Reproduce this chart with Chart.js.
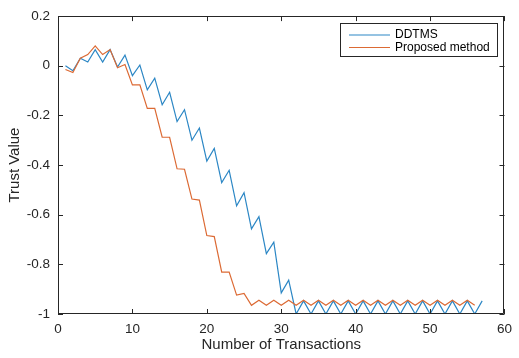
<!DOCTYPE html>
<html lang="en">

<head>
    <meta charset="UTF-8">
    <title>Trust Value vs Number of Transactions</title>
    <style>
        body {
            margin: 0;
            padding: 0;
            background: #fff;
        }

        .chart-box {
            width: 519px;
            height: 358px;
        }
    </style>
</head>

<body>
    <div class="chart-box">
        <canvas id="trustChart" width="519" height="358"></canvas>
    </div>

    <script src="https://cdn.jsdelivr.net/npm/chart.js"></script>
    <script>
        // Values
        const transactions = [1, 2, 3, 4, 5, 6, 7, 8, 9, 10, 11, 12, 13, 14, 15, 16, 17, 18, 19, 20,
            21, 22, 23, 24, 25, 26, 27, 28, 29, 30, 31, 32, 33, 34, 35, 36, 37, 38, 39, 40,
            41, 42, 43, 44, 45, 46, 47, 48, 49, 50, 51, 52, 53, 54, 55, 56, 57];

        const ddtms = [0.0, -0.02, 0.03, 0.015, 0.065, 0.015, 0.065, -0.005, 0.043, -0.04,
            0.003, -0.097, -0.05, -0.157, -0.107, -0.225, -0.177, -0.3, -0.251, -0.384,
            -0.333, -0.471, -0.421, -0.564, -0.511, -0.657, -0.608, -0.757, -0.711, -0.915,
            -0.864, -1, -0.947, -1, -0.947, -1, -0.947, -1, -0.947, -1,
            -0.947, -1, -0.947, -1, -0.947, -1, -0.947, -1, -0.947, -1,
            -0.947, -1, -0.947, -1, -0.947, -1, -0.947];

        const proposed = [-0.015, -0.027, 0.03, 0.045, 0.08, 0.045, 0.065, -0.008, 0.005, -0.077,
            -0.077, -0.172, -0.172, -0.288, -0.288, -0.415, -0.417, -0.537, -0.541, -0.684,
            -0.688, -0.831, -0.831, -0.924, -0.917, -0.965, -0.945, -0.965, -0.945, -0.965,
            -0.945, -0.965, -0.945, -0.965, -0.945, -0.965, -0.945, -0.965, -0.945, -0.965,
            -0.945, -0.965, -0.945, -0.965, -0.945, -0.965, -0.945, -0.965, -0.945, -0.965,
            -0.945, -0.965, -0.945, -0.965, -0.945, -0.965];

        const xTicks = [0, 10, 20, 30, 40, 50, 60];
        const yTicks = [0.2, 0, -0.2, -0.4, -0.6, -0.8, -1];

        const seriesNames = ['DDTMS', 'Proposed method'];
        const seriesColors = ['#2c87c5', '#dc6a34'];

        const toPoints = (ys) => ys.map((v, i) => ({ x: transactions[i], y: v }));

        const axisColor = '#262626';
        const fontFamily = '"Liberation Sans", Arial, Helvetica, sans-serif';

        // Box around the axes with inward tick marks (MATLAB style)
        const axesFrame = {
            id: 'axesFrame',
            afterDatasetsDraw(chart) {
                const { ctx, chartArea: a, scales: { x, y } } = chart;
                const len = 5;
                ctx.save();
                ctx.strokeStyle = axisColor;
                ctx.lineWidth = 1;
                ctx.beginPath();
                ctx.rect(Math.round(a.left) + 0.5, Math.round(a.top) + 0.5,
                    Math.round(a.width) - 1, Math.round(a.height) - 1);
                xTicks.forEach(v => {
                    const px = Math.round(x.getPixelForValue(v)) + 0.5;
                    ctx.moveTo(px, a.bottom);
                    ctx.lineTo(px, a.bottom - len);
                    ctx.moveTo(px, a.top);
                    ctx.lineTo(px, a.top + len);
                });
                yTicks.forEach(v => {
                    const py = Math.round(y.getPixelForValue(v)) + 0.5;
                    ctx.moveTo(a.left, py);
                    ctx.lineTo(a.left + len, py);
                    ctx.moveTo(a.right, py);
                    ctx.lineTo(a.right - len, py);
                });
                ctx.stroke();
                ctx.restore();
            }
        };

        // Boxed legend in the top right corner
        const boxLegend = {
            id: 'boxLegend',
            afterDraw(chart) {
                const { ctx } = chart;
                const box = { x: 340.5, y: 23.5, w: 157, h: 33 };
                ctx.save();
                ctx.fillStyle = '#fff';
                ctx.fillRect(box.x, box.y, box.w, box.h);
                ctx.strokeStyle = axisColor;
                ctx.lineWidth = 1;
                ctx.strokeRect(box.x, box.y, box.w, box.h);
                ctx.font = '12px ' + fontFamily;
                ctx.textBaseline = 'middle';
                chart.data.datasets.forEach((ds, i) => {
                    const rowY = 35 + i * 12.5;
                    ctx.strokeStyle = ds.borderColor;
                    ctx.lineWidth = 1.2;
                    ctx.beginPath();
                    ctx.moveTo(349, rowY);
                    ctx.lineTo(390, rowY);
                    ctx.stroke();
                    ctx.fillStyle = '#000';
                    ctx.fillText(ds.label, 395, rowY);
                });
                ctx.restore();
            }
        };

        const ctx = document.getElementById('trustChart').getContext('2d');
        const trustChart = new Chart(ctx, {
            type: 'line',
            data: {
                datasets: [{
                    label: seriesNames[0],
                    data: toPoints(ddtms),
                    borderColor: seriesColors[0],
                    borderWidth: 1.2,
                    pointRadius: 0,
                    tension: 0,
                    order: 2
                }, {
                    label: seriesNames[1],
                    data: toPoints(proposed),
                    borderColor: seriesColors[1],
                    borderWidth: 1.2,
                    pointRadius: 0,
                    tension: 0,
                    order: 1
                }]
            },
            options: {
                responsive: false,
                animation: false,
                events: [],
                layout: {
                    padding: { top: 14, right: 9, left: 0, bottom: 0 }
                },
                plugins: {
                    legend: { display: false },
                    tooltip: { enabled: false }
                },
                scales: {
                    x: {
                        type: 'linear',
                        min: 0,
                        max: 60,
                        afterFit(scale) { scale.height = 44; },
                        afterBuildTicks(scale) { scale.ticks = xTicks.map(v => ({ value: v })); },
                        grid: { display: false, drawTicks: false },
                        border: { display: false },
                        ticks: {
                            padding: 7,
                            color: axisColor,
                            font: { family: fontFamily, size: 13.5 },
                            maxRotation: 0
                        },
                        title: {
                            display: true,
                            text: 'Number of Transactions',
                            color: axisColor,
                            font: { family: fontFamily, size: 15 },
                            padding: { top: 0, bottom: 4 }
                        }
                    },
                    y: {
                        min: -1,
                        max: 0.2,
                        afterFit(scale) { scale.width = 58; },
                        afterBuildTicks(scale) { scale.ticks = yTicks.map(v => ({ value: v })); },
                        grid: { display: false, drawTicks: false },
                        border: { display: false },
                        ticks: {
                            padding: 8,
                            color: axisColor,
                            font: { family: fontFamily, size: 13.5 },
                            callback: (v) => String(Math.round(v * 10) / 10)
                        },
                        title: {
                            display: true,
                            text: 'Trust Value',
                            color: axisColor,
                            font: { family: fontFamily, size: 15 },
                            padding: { top: 6, bottom: 0 }
                        }
                    }
                }
            },
            plugins: [axesFrame, boxLegend]
        });
    </script>
</body>

</html>
